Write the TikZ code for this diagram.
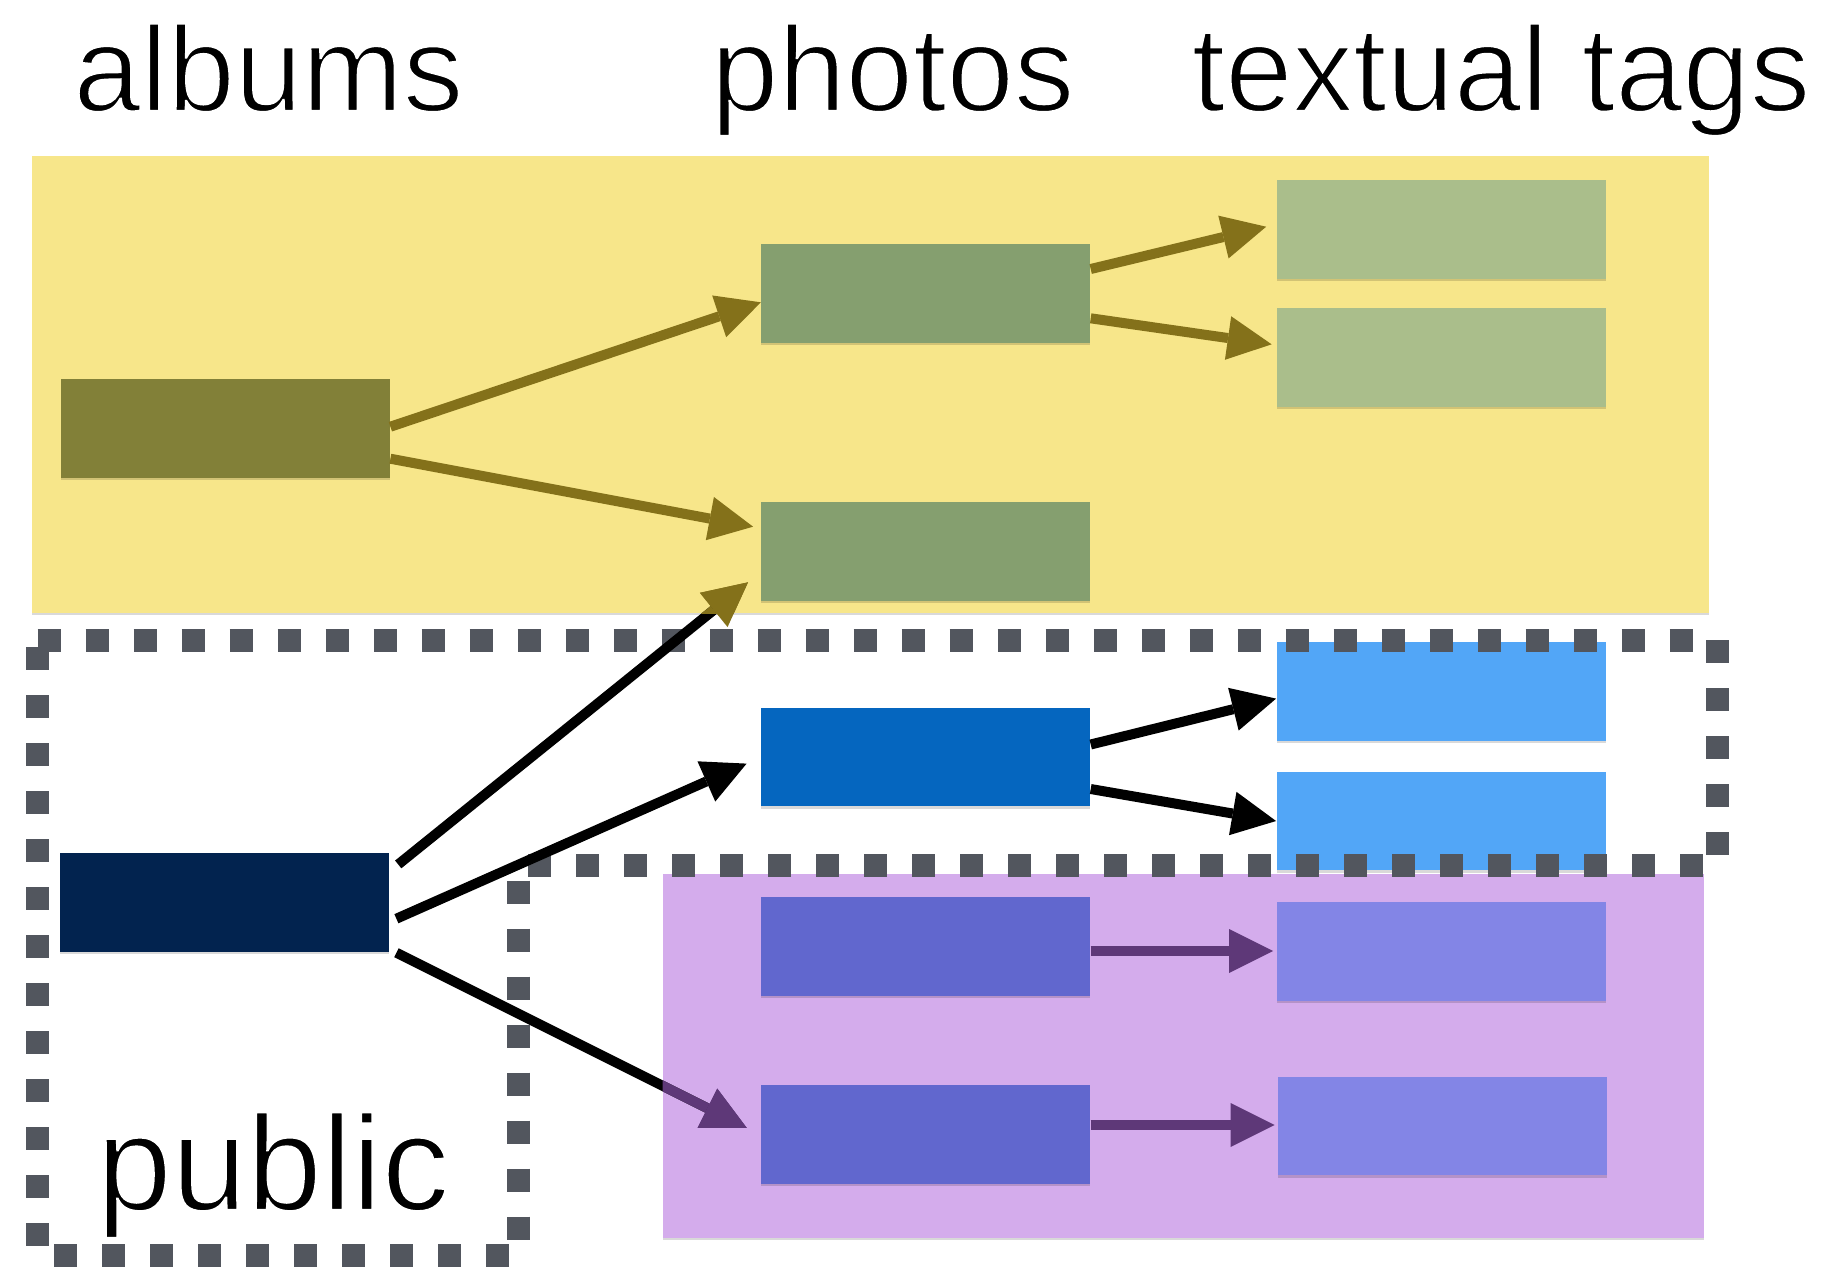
\documentclass[tikz,border=0pt]{standalone}
\usepackage{fontspec}
\setmainfont{Liberation Sans}
\usetikzlibrary{arrows.meta,calc,shadows}

% thinner strokes for the large labels: fill the glyphs, then trim them with a white outline
\newcommand{\lighttext}[1]{\special{pdf:literal direct 2 Tr 1 1 1 RG 1.2 w}#1\special{pdf:literal direct 0 Tr 0 0 0 RG 0.4 w}}

\definecolor{privYellow}{HTML}{F7E68A}
\definecolor{shareLilac}{HTML}{D4ACEC}
\definecolor{albOlive}{HTML}{828038}
\definecolor{phGreen}{HTML}{859F6F}
\definecolor{tagGreen}{HTML}{AABE8B}
\definecolor{arrOlive}{HTML}{84711A}
\definecolor{albNavy}{HTML}{02234F}
\definecolor{phBlue}{HTML}{0566BF}
\definecolor{tagBlue}{HTML}{52A6F7}
\definecolor{phViolet}{HTML}{6167CE}
\definecolor{tagViolet}{HTML}{8385E6}
\definecolor{arrPurple}{HTML}{5E3878}
\definecolor{pubGray}{HTML}{52565E}

\tikzset{
  softshadow/.style={drop shadow={shadow xshift=0pt,shadow yshift=-1.2pt,opacity=0.15,fill=black}},
  region/.style={rectangle,inner sep=0pt,softshadow},
  itembox/.style={rectangle,inner sep=0pt,minimum width=164.5pt,minimum height=49.25pt,softshadow},
  link/.style={line width=5pt,-{Triangle[length=22pt,width=22pt,line width=0pt]}},
  hdr/.style={inner sep=0pt,anchor=base,font=\fontsize{60.5}{70}\selectfont},
  pubedge/.style={draw=pubGray,line width=11.5pt,dash pattern=on 11.5pt off 12.5pt,line cap=butt,line join=miter}
}

\begin{document}
\begin{tikzpicture}[x=0.5pt,y=-0.5pt]
\useasboundingbox (0,0) rectangle (1828,1266);

% column headings
\node[hdr] (hAlbums) at (268.4,111) {\lighttext{albums}};
\node[hdr] (hPhotos) at (892.7,111) {\lighttext{photos}};
\node[hdr] (hTags)   at (1501,111)  {\lighttext{textual tags}};

% background regions
\node[region,fill=privYellow,minimum width=838.75pt,minimum height=228.5pt] (priv) at (870.25,384.5) {};
\node[region,fill=shareLilac,minimum width=520.5pt,minimum height=181.75pt] (shared) at (1183.5,1055.75) {};

% private album, its photos and tags
\node[itembox,fill=albOlive] (alb1) at (225.5,428.5) {};
\node[itembox,fill=phGreen]  (ph1)  at (925.8,293.5) {};
\node[itembox,fill=phGreen]  (ph2)  at (925.8,551.5) {};
\node[itembox,fill=tagGreen] (tg1)  at (1441,229.3) {};
\node[itembox,fill=tagGreen] (tg2)  at (1441,357.5) {};

% public album, its photos and tags
\node[itembox,fill=albNavy]   (alb2) at (224.5,902.5) {};
\node[itembox,fill=phBlue]    (ph3)  at (925.8,757) {};
\node[itembox,fill=tagBlue]   (tg3)  at (1441,691.6) {};
\node[itembox,fill=tagBlue]   (tg4)  at (1441,821) {};
\node[itembox,fill=phViolet]  (ph4)  at (925.8,946.5) {};
\node[itembox,fill=phViolet]  (ph5)  at (925.8,1134.5) {};
\node[itembox,fill=tagViolet] (tg5)  at (1441,951.7) {};
\node[itembox,fill=tagViolet] (tg6)  at (1442.7,1126.2) {};

% outline of the public area
\draw[pubedge] (37.7,640) -- (1717.6,640) -- (1717.6,865) -- (518,865)
  -- (518,1255) -- (37.7,1255) -- cycle;
\node[inner sep=0pt,anchor=base,font=\fontsize{67.5}{78}\selectfont] (hPublic) at (273,1210) {\lighttext{public}};

% private links
\draw[link,draw=arrOlive] ($(alb1.east)+(0,-1.8)$) -- ($(ph1.west)+(0,8.8)$);
\draw[link,draw=arrOlive] ($(alb1.east)+(0,30.2)$) -- ($(ph2.west)+(-7.8,-24.8)$);
\draw[link,draw=arrOlive] ($(ph1.east)+(0,-24.5)$) -- ($(tg1.west)+(-9.9,-2.6)$);
\draw[link,draw=arrOlive] ($(ph1.east)+(0,24.8)$) -- ($(tg2.west)+(-4.5,-13.2)$);

% public links
\coordinate (s1) at ($(alb2.east)+(8.8,-38.1)$);
\coordinate (e1) at ($(ph2.west)+(-12.9,30.8)$);
\coordinate (s3) at ($(alb2.east)+(7,50.2)$);
\coordinate (e3) at ($(ph5.west)+(-14.1,-6.6)$);
\draw[line width=5pt,-{Triangle[length=22pt,width=22pt,line width=0pt,color=arrOlive]}] (s1) -- (e1);
\begin{scope}
  \clip (priv.north west) rectangle (priv.south east);
  \draw[link,draw=arrOlive] (s1) -- (e1);
\end{scope}
\draw[link,draw=black] ($(alb2.east)+(7,16.2)$) -- ($(ph3.west)+(-14.3,6.6)$);
\draw[line width=5pt,-{Triangle[length=22pt,width=22pt,line width=0pt,color=arrPurple]}] (s3) -- (e3);
\begin{scope}
  \clip (shared.north west) rectangle (shared.south east);
  \draw[link,draw=arrPurple] (s3) -- (e3);
\end{scope}
\draw[link,draw=black] ($(ph3.east)+(0,-12.5)$) -- ($(tg3.west)+(0,7)$);
\draw[link,draw=black] ($(ph3.east)+(0,32)$) -- (tg4.west);
\draw[link,draw=arrPurple] ($(ph4.east)+(0,4.5)$) -- ($(tg5.west)+(-3,-0.7)$);
\draw[link,draw=arrPurple] ($(ph5.east)+(0,-9.5)$) -- ($(tg6.west)+(-3.2,-1.2)$);
\end{tikzpicture}
\end{document}
